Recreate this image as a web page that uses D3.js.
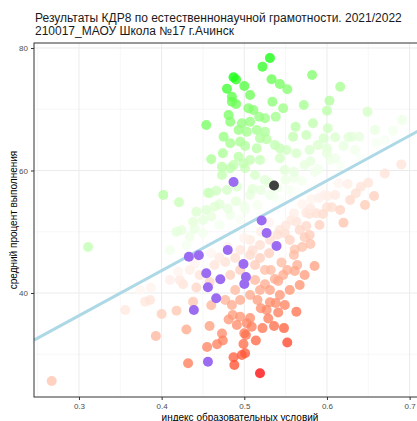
<!DOCTYPE html>
<html>
<head>
<meta charset="utf-8">
<script src="https://cdn.jsdelivr.net/npm/d3@7"></script>
<style>
  body { margin: 0; background: #fff; }
  svg { display: block; font-family: "Liberation Sans", Arial, sans-serif; }
</style>
</head>
<body>
<svg id="chart" width="417" height="421"></svg>
<script>
// chart text
var titleLines = ["Результаты КДР8 по естественнонаучной грамотности. 2021/2022",
                  "210017_МАОУ Школа №17 г.Ачинск"];
var xTitle = "индекс образовательных условий";
var yTitle = "средний процент выполнения";

var xTicks = [0.3, 0.4, 0.5, 0.6, 0.7];
var xMinor = [0.25, 0.35, 0.45, 0.55, 0.65, 0.75];
var yTicks = [40, 60, 80];
var yMinor = [30, 50, 70];

// linear fit: y = fitA + fitB * x
var fitA = 14.25;
var fitB = 73.5;

// all schools [index, percent]
var schools = [
  [0.531,78.37],[0.522,76.95],[0.487,75.22],[0.490,74.86],[0.500,73.80],[0.479,73.36],
  [0.507,72.33],[0.485,72.05],[0.485,71.23],[0.490,70.86],[0.533,74.89],[0.543,74.12],
  [0.552,73.26],[0.582,75.59],[0.616,73.68],[0.534,71.23],[0.547,70.16],[0.572,70.69],
  [0.603,71.40],[0.600,69.76],[0.505,70.16],[0.511,69.88],[0.481,69.06],[0.454,67.43],
  [0.483,67.97],[0.497,67.71],[0.507,67.97],[0.518,68.78],[0.525,68.52],[0.538,68.78],
  [0.475,65.52],[0.493,66.61],[0.503,66.33],[0.515,66.61],[0.525,66.33],[0.519,65.26],
  [0.527,65.09],[0.562,67.15],[0.583,67.71],[0.559,65.52],[0.575,65.80],[0.601,66.89],
  [0.596,65.26],[0.610,65.42],[0.626,65.42],[0.483,64.44],[0.495,64.70],[0.501,64.00],
  [0.515,63.62],[0.537,64.16],[0.543,63.62],[0.551,63.35],[0.563,62.81],[0.579,63.35],
  [0.589,64.16],[0.600,63.62],[0.460,61.83],[0.474,62.81],[0.493,62.25],[0.507,61.71],
  [0.519,61.71],[0.543,61.99],[0.473,59.27],[0.483,60.36],[0.501,60.36],[0.402,56.00],
  [0.458,56.28],[0.649,69.60],[0.691,68.24],[0.630,65.52],[0.639,65.52],[0.311,47.51],
  [0.421,54.81],[0.473,60.62],[0.487,60.90],[0.499,61.18],[0.456,56.38],[0.466,56.70],
  [0.479,56.82],[0.491,57.36],[0.442,53.27],[0.454,53.55],[0.464,54.09],[0.438,51.64],
  [0.450,51.92],[0.418,50.01],[0.424,50.29],[0.434,49.19],[0.513,59.27],[0.525,58.45],
  [0.549,60.08],[0.561,58.78],[0.573,60.90],[0.585,59.76],[0.604,61.71],[0.616,60.90],
  [0.507,56.00],[0.516,54.37],[0.501,53.55],[0.483,52.73],[0.470,51.10],[0.555,56.82],
  [0.567,56.00],[0.589,57.14],[0.531,56.00],[0.543,55.18],[0.634,63.35],[0.658,66.61],
  [0.670,64.98],
  [0.440,50.50],[0.460,52.50],[0.470,54.50],[0.480,53.80],[0.490,55.00],[0.500,54.20],
  [0.510,57.00],[0.520,56.80],[0.530,58.00],[0.540,57.20],[0.550,58.50],[0.560,59.80],
  [0.570,58.30],[0.580,61.50],[0.590,60.20],[0.600,62.80],[0.610,62.00],[0.620,64.00],
  [0.640,62.20],[0.660,64.50],[0.680,66.50],[0.450,49.80],[0.430,47.80],[0.410,47.00],
  [0.520,53.00],[0.495,52.00],[0.535,55.80],[0.565,56.50],
  [0.620,51.48],[0.606,53.99],[0.595,52.90],[0.587,53.01],[0.579,52.90],[0.573,49.09],
  [0.585,44.41],[0.563,36.95],[0.552,31.92],[0.519,26.89],[0.541,36.82],[0.538,38.37],
  [0.531,38.48],[0.529,35.84],[0.520,37.50],[0.527,37.22],[0.536,34.61],[0.514,32.24],
  [0.499,31.67],[0.497,29.88],[0.487,29.50],[0.488,28.24],[0.473,33.39],[0.474,32.24],
  [0.467,31.62],[0.455,31.18],[0.458,34.61],[0.432,28.52],[0.430,34.04],[0.418,37.11],
  [0.400,36.57],[0.393,32.98],[0.426,41.42],[0.438,38.58],[0.442,40.90],[0.460,37.99],
  [0.481,35.67],[0.491,34.78],[0.503,35.05],[0.509,34.50],[0.500,33.42],[0.486,36.41],
  [0.495,36.13],[0.380,38.58],[0.387,40.87],[0.267,25.63],[0.502,33.14],[0.501,30.16],
  [0.641,57.36],[0.635,56.28],[0.657,55.84],[0.601,55.84],[0.614,57.91],[0.575,53.11],
  [0.575,50.94],[0.563,51.64],[0.557,51.92],[0.581,55.30],[0.561,47.10],[0.549,49.75],
  [0.564,44.57],[0.561,43.59],[0.552,43.76],[0.547,42.94],[0.541,41.96],[0.537,42.29],
  [0.525,41.42],[0.532,43.76],[0.507,46.20],[0.513,44.57],[0.519,45.71],[0.525,43.76],
  [0.513,42.12],[0.519,40.49],[0.531,40.49],[0.507,39.67],[0.495,38.86],[0.516,38.86],
  [0.543,39.67],[0.549,38.04],[0.489,40.49],[0.483,42.94],[0.495,43.76],[0.477,45.06],
  [0.489,45.71],[0.464,44.57],[0.477,38.86],[0.485,38.04],[0.458,41.80],[0.446,42.94],
  [0.507,35.90],[0.522,34.27],[0.548,34.27],[0.555,40.49],[0.567,41.31],[0.573,42.94],
  [0.531,48.65],[0.543,50.29],[0.555,48.65],[0.567,50.29],[0.579,49.47],[0.591,51.10],
  [0.519,47.84],[0.507,48.65],[0.495,47.02],[0.458,47.84],[0.470,48.65],[0.434,43.76],
  [0.422,42.12],[0.410,42.12],[0.386,38.86],[0.374,40.49],[0.356,37.22],[0.616,53.55],
  [0.628,55.18],[0.597,56.00],[0.646,54.37],
  [0.500,49.00],[0.520,50.00],[0.530,51.50],[0.540,49.50],[0.550,51.00],[0.560,53.00],
  [0.570,54.50],[0.580,53.80],[0.590,55.50],[0.600,54.00],[0.610,56.00],[0.625,57.80],
  [0.650,58.00],[0.670,59.50],[0.690,61.00],[0.480,47.50],[0.470,45.80],[0.460,46.50],
  [0.440,44.80],[0.420,43.50],[0.510,47.00],[0.530,46.50],[0.545,45.00],[0.560,46.20],
  [0.570,47.50],[0.580,48.00]
];

// classes of the school (purple)
var classes = [
  [0.487,58.12],[0.521,51.84],[0.527,49.80],[0.539,47.67],[0.480,47.02],[0.433,45.93],
  [0.445,46.16],[0.499,44.73],[0.454,43.22],[0.502,42.61],[0.500,41.47],[0.471,42.24],
  [0.456,40.93],[0.466,39.13],[0.439,37.22],[0.456,28.78]
];

// the school itself
var school = [[0.536,57.55]];

var svg = d3.select("#chart");
var pLeft = 34, pRight = 446, pTop = 43, pBottom = 397;

var x = d3.scaleLinear().domain([0.2456, 0.744]).range([pLeft, pRight]);
var y = d3.scaleLinear().domain([23.02, 80.82]).range([pBottom, pTop]);

// residual colour
function resid(d) { return d[1] - (fitA + fitB * d[0]); }
var rs = schools.map(resid);
var color = d3.scaleLinear()
    .domain([d3.min(rs), 0, d3.max(rs)])
    .range(["#ff0000", "#ffffff", "#00ff00"])
    .interpolate(d3.interpolateLab);

// grid
var grid = svg.append("g");
grid.selectAll(".xm").data(xMinor).enter().append("line")
    .attr("x1", d => x(d)).attr("x2", d => x(d)).attr("y1", pTop).attr("y2", pBottom)
    .attr("stroke", "#f2f2f2").attr("stroke-width", 0.6);
grid.selectAll(".ym").data(yMinor).enter().append("line")
    .attr("y1", d => y(d)).attr("y2", d => y(d)).attr("x1", pLeft).attr("x2", pRight)
    .attr("stroke", "#f2f2f2").attr("stroke-width", 0.6);
grid.selectAll(".xM").data(xTicks).enter().append("line")
    .attr("x1", d => x(d)).attr("x2", d => x(d)).attr("y1", pTop).attr("y2", pBottom)
    .attr("stroke", "#ebebeb").attr("stroke-width", 1);
grid.selectAll(".yM").data(yTicks).enter().append("line")
    .attr("y1", d => y(d)).attr("y2", d => y(d)).attr("x1", pLeft).attr("x2", pRight)
    .attr("stroke", "#ebebeb").attr("stroke-width", 1);

// points
svg.append("g").selectAll("circle").data(schools).enter().append("circle")
    .attr("cx", d => x(d[0])).attr("cy", d => y(d[1])).attr("r", 5)
    .attr("fill", d => color(resid(d)))
    .attr("fill-opacity", 0.75);

// fit line
var fitLine = d3.line().x(d => x(d)).y(d => y(fitA + fitB * d));
svg.append("path")
    .datum(x.domain())
    .attr("d", fitLine)
    .attr("fill", "none")
    .attr("stroke", "#add8e6")
    .attr("stroke-width", 3);

svg.append("g").selectAll("circle").data(classes).enter().append("circle")
    .attr("cx", d => x(d[0])).attr("cy", d => y(d[1])).attr("r", 5)
    .attr("fill", "#9b6cf2");

svg.append("g").selectAll("circle").data(school).enter().append("circle")
    .attr("cx", d => x(d[0])).attr("cy", d => y(d[1])).attr("r", 5)
    .attr("fill", "#404040");

// panel border
svg.append("rect")
    .attr("x", pLeft).attr("y", pTop)
    .attr("width", pRight - pLeft).attr("height", pBottom - pTop)
    .attr("fill", "none").attr("stroke", "#333333").attr("stroke-width", 1);

// axes
var xAxis = svg.append("g").attr("transform", "translate(0," + pBottom + ")")
    .call(d3.axisBottom(x).tickValues(xTicks).tickSize(3).tickPadding(3).tickFormat(d3.format(".1f")));
var yAxis = svg.append("g").attr("transform", "translate(" + pLeft + ",0)")
    .call(d3.axisLeft(y).tickValues(yTicks).tickSize(3).tickPadding(3));
[xAxis, yAxis].forEach(function (a) {
    a.select(".domain").remove();
    a.selectAll("line").attr("stroke", "#333333");
    a.selectAll("text").attr("fill", "#4d4d4d").style("font-size", "8px")
        .style("font-family", "Liberation Sans, Arial, sans-serif");
});

// titles
svg.append("text").attr("x", 35).attr("y", 22)
    .style("font-size", "12px").attr("fill", "#1a1a1a").text(titleLines[0]);
svg.append("text").attr("x", 35).attr("y", 35)
    .style("font-size", "12px").attr("fill", "#1a1a1a").text(titleLines[1]);

svg.append("text")
    .attr("x", (pLeft + pRight) / 2).attr("y", 421)
    .attr("text-anchor", "middle")
    .style("font-size", "10px").text(xTitle);

svg.append("text")
    .attr("transform", "translate(17," + ((pTop + pBottom) / 2) + ") rotate(-90)")
    .attr("text-anchor", "middle")
    .style("font-size", "10px").text(yTitle);
</script>
</body>
</html>
